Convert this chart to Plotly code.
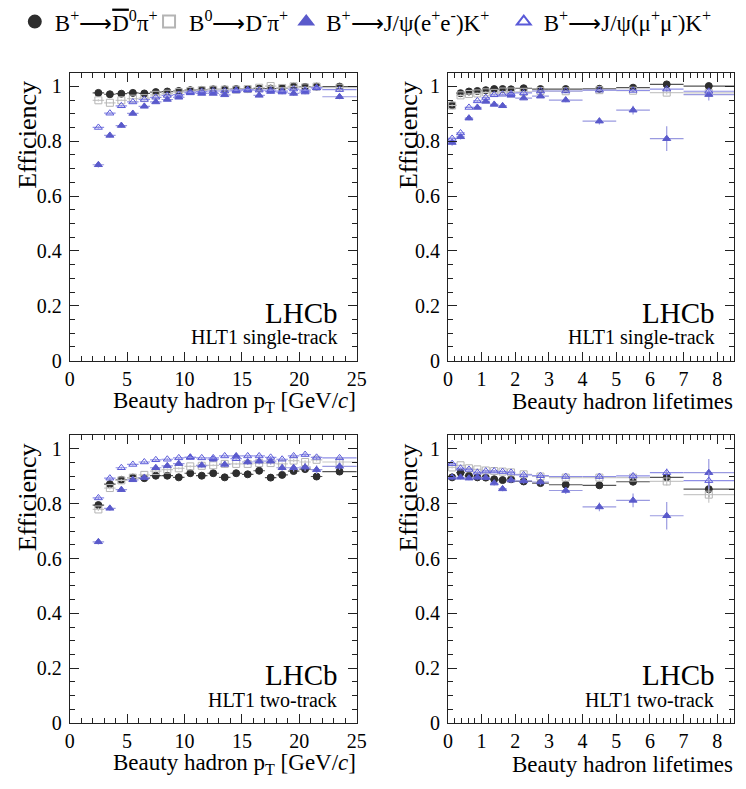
import plotly.graph_objects as go

# ---------------- data ----------------
pt_x = [2.5, 3.5, 4.5, 5.5, 6.5, 7.5, 8.5, 9.5, 10.5, 11.5, 12.5, 13.5, 14.5, 15.5,
        16.5, 17.5, 18.5, 19.5, 20.5, 21.5, 23.5]
pt_hw = [0.5, 0.5, 0.5, 0.5, 0.5, 0.5, 0.5, 0.5, 0.5, 0.5, 0.5, 0.5, 0.5, 0.5,
         0.5, 0.5, 0.5, 0.5, 0.5, 0.5, 1.5]
lt_x = [0.125, 0.375, 0.625, 0.875, 1.125, 1.375, 1.625, 1.875, 2.25, 2.75, 3.5, 4.5, 5.5, 6.5, 7.75]
lt_hw = [0.125, 0.125, 0.125, 0.125, 0.125, 0.125, 0.125, 0.125, 0.25, 0.25, 0.5, 0.5, 0.5, 0.5, 0.75]

# single-track vs pT
st_pt_dpi0 = [0.976, 0.971, 0.973, 0.976, 0.974, 0.979, 0.981, 0.983, 0.986, 0.987, 0.989, 0.989,
              0.990, 0.990, 0.992, 0.992, 0.993, 0.999, 0.998, 0.999, 0.999]
st_pt_dpi = [0.949, 0.940, 0.949, 0.955, 0.957, 0.969, 0.973, 0.979, 0.983, 0.986, 0.988, 0.988,
             0.988, 0.990, 0.995, 1.001, 0.994, 1.000, 0.996, 0.999, 0.995]
st_pt_ee = [0.714, 0.821, 0.857, 0.901, 0.927, 0.943, 0.952, 0.960, 0.976, 0.974, 0.974, 0.969,
            0.983, 0.986, 0.967, 0.981, 0.979, 0.974, 0.979, 0.995, 0.962]
st_pt_mm = [0.850, 0.902, 0.929, 0.943, 0.952, 0.960, 0.967, 0.970, 0.979, 0.981, 0.983, 0.983,
            0.986, 0.988, 0.986, 0.986, 0.983, 0.990, 0.986, 0.994, 0.988]

# single-track vs lifetime
st_lt_dpi0 = [0.931, 0.975, 0.981, 0.983, 0.986, 0.990, 0.990, 0.989, 0.993, 0.990, 0.990, 0.991,
              0.995, 1.007, 1.001]
st_lt_dpi = [0.930, 0.967, 0.972, 0.974, 0.978, 0.976, 0.981, 0.981, 0.980, 0.983, 0.982, 0.986,
             0.984, 0.977, 0.976]
st_lt_ee = [0.795, 0.816, 0.884, 0.923, 0.945, 0.934, 0.929, 0.967, 0.957, 0.964, 0.950, 0.873,
            0.913, 0.809, 0.970]
st_lt_mm = [0.810, 0.830, 0.923, 0.947, 0.959, 0.969, 0.971, 0.973, 0.976, 0.983, 0.983, 0.986,
            0.985, 0.990, 0.982]

# two-track vs pT
tt_pt_dpi0 = [0.795, 0.871, 0.887, 0.895, 0.893, 0.902, 0.902, 0.896, 0.911, 0.902, 0.911, 0.896,
              0.911, 0.907, 0.920, 0.895, 0.905, 0.919, 0.926, 0.899, 0.917]
tt_pt_dpi = [0.779, 0.857, 0.885, 0.895, 0.905, 0.919, 0.924, 0.929, 0.936, 0.938, 0.940, 0.945,
             0.945, 0.945, 0.948, 0.948, 0.945, 0.957, 0.952, 0.960, 0.952]
tt_pt_ee = [0.661, 0.783, 0.851, 0.887, 0.895, 0.931, 0.938, 0.946, 0.969, 0.940, 0.962, 0.943,
            0.974, 0.952, 0.955, 0.955, 0.931, 0.931, 0.933, 0.924, 0.936]
tt_pt_mm = [0.821, 0.893, 0.931, 0.943, 0.952, 0.960, 0.962, 0.967, 0.969, 0.967, 0.967, 0.974,
            0.964, 0.974, 0.974, 0.969, 0.962, 0.974, 0.979, 0.969, 0.967]

# two-track vs lifetime
tt_lt_dpi0 = [0.896, 0.913, 0.902, 0.896, 0.895, 0.889, 0.886, 0.889, 0.881, 0.875, 0.869, 0.867,
              0.880, 0.896, 0.853]
tt_lt_dpi = [0.932, 0.940, 0.929, 0.925, 0.921, 0.919, 0.917, 0.914, 0.907, 0.899, 0.895, 0.895,
             0.895, 0.881, 0.833]
tt_lt_ee = [0.896, 0.896, 0.893, 0.896, 0.895, 0.875, 0.854, 0.886, 0.883, 0.879, 0.848, 0.788,
            0.812, 0.756, 0.913]
tt_lt_mm = [0.946, 0.929, 0.925, 0.914, 0.919, 0.919, 0.917, 0.914, 0.905, 0.902, 0.899, 0.899,
            0.901, 0.913, 0.884]

# vertical uncertainties
st_pt_err_dark = [0.004, 0.003, 0.003, 0.003, 0.003, 0.003, 0.003, 0.003, 0.003, 0.003, 0.003, 0.003,
                  0.003, 0.003, 0.003, 0.003, 0.003, 0.003, 0.003, 0.003, 0.003]
st_pt_err_ee = [0.010, 0.008, 0.007, 0.006, 0.006, 0.005, 0.005, 0.005, 0.005, 0.005, 0.005, 0.006,
                0.006, 0.006, 0.007, 0.007, 0.008, 0.008, 0.008, 0.008, 0.009]
st_lt_err_dark = [0.004, 0.003, 0.003, 0.003, 0.003, 0.003, 0.003, 0.003, 0.003, 0.003, 0.003, 0.004,
                  0.005, 0.007, 0.008]
st_lt_err_ee = [0.012, 0.010, 0.008, 0.006, 0.006, 0.006, 0.006, 0.006, 0.006, 0.007, 0.008, 0.012,
                0.016, 0.045, 0.022]
tt_pt_err_dark = [0.006, 0.005, 0.004, 0.004, 0.004, 0.004, 0.004, 0.004, 0.004, 0.004, 0.004, 0.004,
                  0.004, 0.004, 0.005, 0.005, 0.005, 0.006, 0.006, 0.006, 0.006]
tt_pt_err_ee = [0.010, 0.009, 0.008, 0.008, 0.008, 0.008, 0.008, 0.008, 0.008, 0.009, 0.009, 0.010,
                0.010, 0.011, 0.011, 0.012, 0.013, 0.014, 0.015, 0.016, 0.013]
tt_lt_err_dark = [0.004, 0.004, 0.004, 0.004, 0.004, 0.004, 0.004, 0.005, 0.005, 0.006, 0.006, 0.008,
                  0.010, 0.015, 0.030]
tt_lt_err_ee = [0.008, 0.008, 0.008, 0.008, 0.008, 0.009, 0.009, 0.010, 0.010, 0.012, 0.013, 0.016,
                0.025, 0.050, 0.050]

ARROW = "⟶"
legend_names = [
    "B<sup>+</sup>" + ARROW + "<span style='text-decoration:overline'>D</span><sup>0</sup>π<sup>+</sup>",
    "B<sup>0</sup>" + ARROW + "D<sup>-</sup>π<sup>+</sup>",
    "B<sup>+</sup>" + ARROW + "J/ψ(e<sup>+</sup>e<sup>-</sup>)K<sup>+</sup>",
    "B<sup>+</sup>" + ARROW + "J/ψ(μ<sup>+</sup>μ<sup>-</sup>)K<sup>+</sup>",
]

# ---------------- styling ----------------
FONT = "Liberation Serif"
W, H = 746, 789
styles = [
    dict(symbol="circle", color="#2e2e2e", line=dict(color="#2e2e2e", width=1), err="#555555"),
    dict(symbol="square-open", color="#b4b4b4", line=dict(color="#b4b4b4", width=1), err="#c8c8c8"),
    dict(symbol="triangle-up", color="#5a5acb", line=dict(color="#5a5acb", width=1), err="#9a9ae0"),
    dict(symbol="triangle-up-open", color="#5a5ad8", line=dict(color="#5a5ad8", width=1), err="#8f8fe6"),
]

def px_x(p):
    return p / W

def px_y(p):
    return 1 - p / H

panels = [
    ("x", "y", pt_x, pt_hw, [st_pt_dpi0, st_pt_dpi, st_pt_ee, st_pt_mm], st_pt_err_dark, st_pt_err_ee),
    ("x2", "y2", lt_x, lt_hw, [st_lt_dpi0, st_lt_dpi, st_lt_ee, st_lt_mm], st_lt_err_dark, st_lt_err_ee),
    ("x3", "y3", pt_x, pt_hw, [tt_pt_dpi0, tt_pt_dpi, tt_pt_ee, tt_pt_mm], tt_pt_err_dark, tt_pt_err_ee),
    ("x4", "y4", lt_x, lt_hw, [tt_lt_dpi0, tt_lt_dpi, tt_lt_ee, tt_lt_mm], tt_lt_err_dark, tt_lt_err_ee),
]

fig = go.Figure()
legend_ids = ["legend", "legend2", "legend3", "legend4"]
for pi, (xa, ya, xs, hw, series, err_dark, err_ee) in enumerate(panels):
    for si, ys in enumerate(series):
        st = styles[si]
        yerr = err_ee if si == 2 else err_dark
        fig.add_trace(go.Scatter(
            x=xs, y=ys, xaxis=xa, yaxis=ya, mode="markers",
            name=legend_names[si],
            legend=legend_ids[si],
            showlegend=(pi == 0),
            marker=dict(symbol=st["symbol"], size=7, color=st["color"], line=st["line"]),
            error_x=dict(type="data", array=hw, color=st["err"], thickness=1.2, width=0),
            error_y=dict(type="data", array=yerr, color=st["err"], thickness=1.2, width=0),
        ))

left_x = (66, 359)
right_x = (452, 744)
top_y = (69, 363)
bot_y = (439, 733)

def xdom(r):
    return [px_x(r[0]), px_x(r[1])]

def ydom(r):
    return [px_y(r[1]), px_y(r[0])]

tickfont = dict(family=FONT, size=20, color="black")
common_axis = dict(showline=True, linecolor="#222222", linewidth=1, mirror="allticks",
                   ticks="inside", ticklen=9, tickwidth=1, tickcolor="#222222",
                   showgrid=False, zeroline=False, tickfont=tickfont)

def yaxis(dom, anchor):
    return dict(common_axis, domain=dom, anchor=anchor, range=[0, 1.05], dtick=0.2, tick0=0,
                ticklabelstandoff=3,
                minor=dict(dtick=0.05, ticklen=5, ticks="inside", tickcolor="#222222", showgrid=False))

def xaxis(dom, anchor, rng, dtick, mdtick):
    return dict(common_axis, domain=dom, anchor=anchor, range=rng, dtick=dtick, tick0=0,
                ticklabelstandoff=0,
                minor=dict(dtick=mdtick, ticklen=5, ticks="inside", tickcolor="#222222", showgrid=False))

layout = dict(
    width=W, height=H, margin=dict(l=0, r=0, t=0, b=0),
    paper_bgcolor="white", plot_bgcolor="white",
    font=dict(family=FONT, color="black"),
    xaxis=xaxis(xdom(left_x), "y", [0, 25], 5, 1),
    yaxis=yaxis(ydom(top_y), "x"),
    xaxis2=xaxis(xdom(right_x), "y2", [0, 8.5], 1, 0.2),
    yaxis2=yaxis(ydom(top_y), "x2"),
    xaxis3=xaxis(xdom(left_x), "y3", [0, 25], 5, 1),
    yaxis3=yaxis(ydom(bot_y), "x3"),
    xaxis4=xaxis(xdom(right_x), "y4", [0, 8.5], 1, 0.2),
    yaxis4=yaxis(ydom(bot_y), "x4"),
)

leg_x_px = [10, 147, 287, 509]
for i, lid in enumerate(legend_ids):
    layout[lid] = dict(x=px_x(leg_x_px[i]), y=px_y(17), xanchor="left", yanchor="middle",
                       orientation="h", bgcolor="rgba(0,0,0,0)", borderwidth=0,
                       font=dict(family=FONT, size=23, color="black"),
                       itemwidth=30, tracegroupgap=0, itemsizing="constant")
fig.update_layout(**layout)

annots = []
xtitles = ["Beauty hadron p<sub>T</sub> [GeV/<i>c</i>]", "Beauty hadron lifetimes"]
for row, (yr, lab) in enumerate([(top_y, "HLT1 single-track"), (bot_y, "HLT1 two-track")]):
    for col, xr in enumerate([left_x, right_x]):
        annots.append(dict(text="LHCb", xref="paper", yref="paper",
                           x=px_x(xr[1] - 17), y=px_y(yr[1] - 49), xanchor="right", yanchor="middle",
                           showarrow=False, font=dict(family=FONT, size=29, color="black")))
        annots.append(dict(text=lab, xref="paper", yref="paper",
                           x=px_x(xr[1] - 18), y=px_y(yr[1] - 24), xanchor="right", yanchor="middle",
                           showarrow=False, font=dict(family=FONT, size=20, color="black")))
        annots.append(dict(text=xtitles[col], xref="paper", yref="paper",
                           x=px_x(xr[1] + 1), y=px_y(yr[1] + 42), xanchor="right", yanchor="middle",
                           showarrow=False, font=dict(family=FONT, size=23, color="black")))
        annots.append(dict(text="Efficiency", xref="paper", yref="paper", textangle=-90,
                           x=px_x(xr[0] - 43 if col == 0 else xr[0] - 40), y=px_y(yr[0] + 64),
                           xanchor="center", yanchor="middle",
                           showarrow=False, font=dict(family=FONT, size=26, color="black")))
fig.update_layout(annotations=annots)

fig.write_html("out.html")
